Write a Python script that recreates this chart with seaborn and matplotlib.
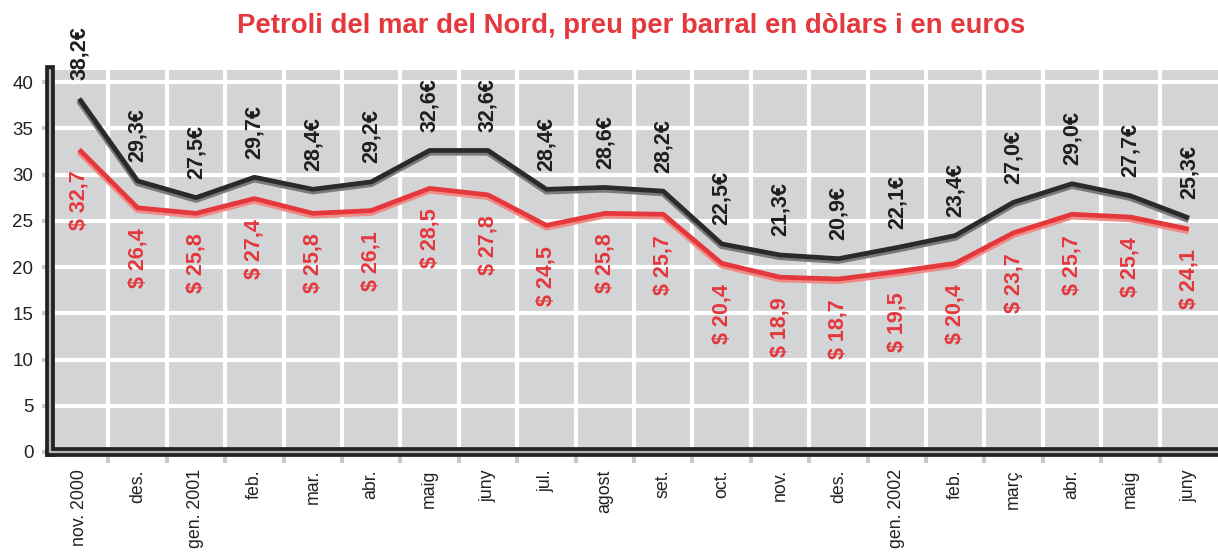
import numpy as np
import pandas as pd
import matplotlib.pyplot as plt
import matplotlib.patheffects as pe
import seaborn as sns

# Monthly prices, Nov 2000 - Jun 2002
MONTHS = ["nov. 2000", "des.", "gen. 2001", "feb.", "mar.", "abr.", "maig",
          "juny", "jul.", "agost", "set.", "oct.", "nov.", "des.",
          "gen. 2002", "feb.", "març", "abr.", "maig", "juny"]
EUROS = [38.2, 29.3, 27.5, 29.7, 28.4, 29.2, 32.6, 32.6, 28.4, 28.6,
         28.2, 22.5, 21.3, 20.9, 22.1, 23.4, 27.0, 29.0, 27.7, 25.3]
DOLLARS = [32.7, 26.4, 25.8, 27.4, 25.8, 26.1, 28.5, 27.8, 24.5, 25.8,
           25.7, 20.4, 18.9, 18.7, 19.5, 20.4, 23.7, 25.7, 25.4, 24.1]
Y_TICKS = list(range(0, 41, 5))

TITLE = "Petroli del mar del Nord, preu per barral en dòlars i en euros"
RED = "#e4383d"
DARK = "#2a2a2a"
BG = "#d3d4d6"

sns.set_theme(style="white")
plt.rcParams["font.family"] = ["Liberation Sans", "DejaVu Sans"]

W, H = 1218, 553
fig = plt.figure(figsize=(W / 100, H / 100), dpi=100)
ax = fig.add_axes([50 / W, 1 - 452 / H, 1 - 50 / W, (452 - 70) / H])
ax.set_facecolor(BG)

n = len(MONTHS)
idx = np.arange(n)
df = pd.DataFrame({
    "mes": np.concatenate([idx, idx]),
    "preu": EUROS + DOLLARS,
    "serie": ["euros"] * n + ["dolars"] * n,
})
sns.lineplot(data=df, x="mes", y="preu", hue="serie",
             palette={"euros": DARK, "dolars": RED},
             linewidth=3.4, legend=False, sort=False, ax=ax)

# soft 3D look on the lines
shades = {0: "#7a7a7a", 1: "#f08a86"}
for i, line in enumerate(ax.lines[:2]):
    line.set_solid_joinstyle("round")
    line.set_solid_capstyle("butt")
    line.set_path_effects([
        pe.Stroke(linewidth=5, foreground=shades[i], offset=(0, -1.2)),
        pe.Normal(),
    ])

# value labels
for i, (e, d) in enumerate(zip(EUROS, DOLLARS)):
    ax.text(i, e + 2.0, f"{e:.1f}".replace(".", ",") + "€", rotation=90,
            ha="center", va="bottom", fontsize=15.5, fontweight="bold",
            color="#1e1e1e")
    ax.text(i, d - 2.2, "$ " + f"{d:.1f}".replace(".", ","), rotation=90,
            ha="center", va="top", fontsize=15.5, fontweight="bold",
            color=RED)

ax.set_xlim(-0.5, n - 0.5)
ax.set_ylim(0, 41.3)
ax.set_yticks(Y_TICKS)
ax.set_yticklabels([str(v) for v in Y_TICKS])
ax.set_xticks(idx)
ax.set_xticklabels(MONTHS, rotation=90, va="top", ha="center")
ax.set_xticks(idx[:-1] + 0.5, minor=True)
ax.set_xlabel("")
ax.set_ylabel("")

ax.grid(which="minor", axis="x", color="white", linewidth=3)
ax.grid(which="major", axis="y", color="white", linewidth=3)
ax.grid(which="major", axis="x", visible=False)
ax.set_axisbelow(True)

ax.tick_params(axis="y", which="major", left=True, length=6, width=3,
               color="#c9c9c9", labelsize=13.5, labelcolor="#222222", pad=6)
ax.tick_params(axis="x", which="major", bottom=False, labelsize=12.8,
               labelcolor="#222222", pad=6.5)
ax.tick_params(axis="x", which="minor", bottom=True, length=8, width=3,
               color="#c9c9c9")

for s in ["top", "right"]:
    ax.spines[s].set_visible(False)
for s in ["left", "bottom"]:
    ax.spines[s].set_color("#222222")
    ax.spines[s].set_linewidth(7)
# light line inside the thick axes to give the double-rule effect
ax.axvline(-0.5, color="#b5b5b5", linewidth=1.6, zorder=3, clip_on=False)
ax.axhline(0, color="#b5b5b5", linewidth=1.6, zorder=3, clip_on=False)

fig.text(631 / W, 1 - 26 / H, TITLE, ha="center", va="center",
         fontsize=19.8, fontweight="bold", color=RED)

fig.savefig("out.png", dpi=100)
